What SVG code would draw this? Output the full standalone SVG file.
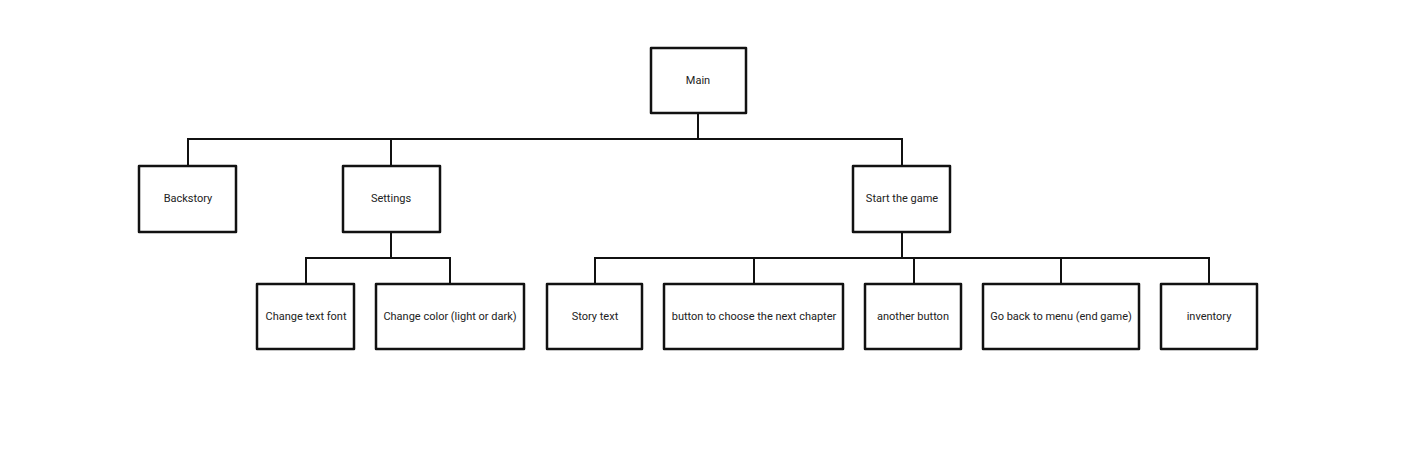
<svg xmlns="http://www.w3.org/2000/svg" width="1403" height="461" viewBox="0 0 1403 461">
<style>
.box{fill:#fff;stroke:#111;stroke-width:2.5;stroke-linejoin:round}
.lbl{font-family:Roboto,"Liberation Sans",sans-serif;font-size:11px;fill:#222;text-anchor:middle;dominant-baseline:central}
.con{fill:none;stroke:#111;stroke-width:2;stroke-linejoin:miter}
</style>
<rect width="1403" height="461" fill="#fff"/>
<g id="connectors">
<path class="con" d="M698 113 V139 M188 166 V139 H902 V166 M391 139 V166"/>
<path class="con" d="M391 232 V258 M306 284 V258 H450 V284"/>
<path class="con" d="M902 232 V258 M595 284 V258 H1209 V284 M754 258 V284 M914 258 V284 M1061 258 V284"/>
</g>
<g id="main"><rect class="box" x="651" y="48" width="95" height="65"/><text class="lbl" x="698" y="80">Main</text></g>
<g id="backstory"><rect class="box" x="139" y="166" width="97" height="66"/><text class="lbl" x="188" y="198">Backstory</text></g>
<g id="settings"><rect class="box" x="343" y="166" width="97" height="66"/><text class="lbl" x="391" y="198">Settings</text></g>
<g id="start"><rect class="box" x="853" y="166" width="97" height="66"/><text class="lbl" x="902" y="198">Start the game</text></g>
<g id="font"><rect class="box" x="257" y="284" width="97" height="65"/><text class="lbl" x="306" y="316">Change text font</text></g>
<g id="color"><rect class="box" x="376" y="284" width="148" height="65"/><text class="lbl" x="450" y="316">Change color (light or dark)</text></g>
<g id="story"><rect class="box" x="547" y="284" width="95" height="65"/><text class="lbl" x="595" y="316">Story text</text></g>
<g id="next"><rect class="box" x="664" y="284" width="179" height="65"/><text class="lbl" x="754" y="316">button to choose the next chapter</text></g>
<g id="another"><rect class="box" x="865" y="284" width="96" height="65"/><text class="lbl" x="913" y="316">another button</text></g>
<g id="back"><rect class="box" x="983" y="284" width="156" height="65"/><text class="lbl" x="1061" y="316">Go back to menu (end game)</text></g>
<g id="inventory"><rect class="box" x="1161" y="284" width="96" height="65"/><text class="lbl" x="1209" y="316">inventory</text></g>
</svg>
